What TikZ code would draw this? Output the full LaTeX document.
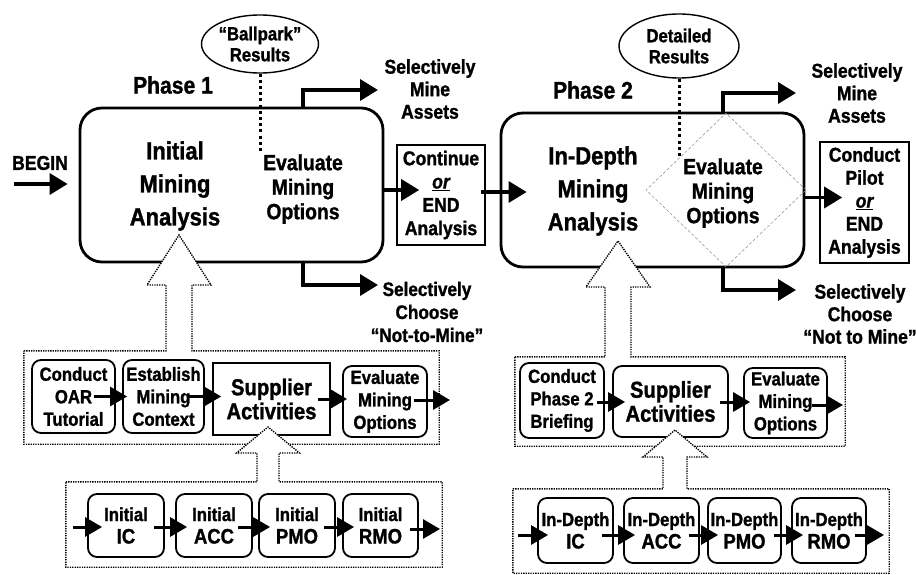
\documentclass[tikz,border=0pt]{standalone}
\usepackage{fontspec}
\setmainfont{Liberation Sans}[FakeStretch=0.88,FakeBold=1.2]
\usetikzlibrary{arrows.meta,calc,shapes.geometric}

% bold text at a given size / baseline skip
\newcommand\fs[2]{\fontsize{#1}{#2}\selectfont\bfseries}

% dotted group frame whose top edge turns into a hollow arrow pointing up
% #1 group node, #2 tip coordinate, #3 head length, #4 half shaft width, #5 half head width
\newcommand\grouparrow[5]{%
  \draw[grp,fill=white] (#1.north west)
    -- ($(#2 |- #1.north)+(-#4,0)$) -- ($(#2)+(-#4,#3)$) -- ($(#2)+(-#5,#3)$)
    -- (#2) -- ($(#2)+(#5,#3)$) -- ($(#2)+(#4,#3)$) -- ($(#2 |- #1.north)+(#4,0)$)
    -- (#1.north east) -- (#1.south east) -- (#1.south west) -- cycle;}

\begin{document}
\begin{tikzpicture}[x=1pt,y=-1pt,
  bigbox/.style={draw, rounded corners=22pt, line width=2.8pt, inner sep=0pt},
  smallbox/.style={draw, rounded corners=9pt, line width=1.8pt, inner sep=0pt, align=center, font=\fs{19}{22.5}},
  sqbox/.style={draw, line width=1.6pt, inner sep=0pt, align=center},
  txt/.style={inner sep=0pt, align=center},
  grp/.style={line width=1.4pt, dash pattern=on 1.3pt off 1.1pt},
  grpnode/.style={inner sep=0pt, draw=none},
  arr/.style={line width=3.5pt, -{Triangle[length=18pt,width=21pt]}},
  sarr/.style={line width=3pt, -{Triangle[length=17pt,width=19pt]}},
  link/.style={line width=3pt, dash pattern=on 3pt off 3.2pt},
  oval/.style={ellipse, draw, line width=1.4pt, inner sep=0pt, align=center, font=\fs{19}{21}},
  sel/.style={txt, font=\fs{20}{22.5}},
  phase/.style={txt, font=\fs{24}{28}},
  bigtxt/.style={txt, font=\fs{25}{33}},
  midtxt/.style={txt, font=\fs{22}{24.5}},
  supp/.style={font=\fs{23}{24}},
]
\fill[white] (0,0) rectangle (916,575);
\useasboundingbox (0,0) rectangle (916,575);

% ---------------- Phase 1 ----------------
\node[bigbox, minimum width=303pt, minimum height=154pt] (main1) at (231.5,185) {};
\node[phase] (ph1) at (173,85) {Phase 1};
\node[bigtxt] (init) at (175,186) {Initial\\Mining\\Analysis};
\node[midtxt] (eval1) at (303,189) {Evaluate\\Mining\\Options};
\node[oval, minimum width=117pt, minimum height=58pt] (e1) at (260,44) {“Ballpark”\\Results};
\coordinate (d1) at (260,153);
\draw[link] (e1.south) -- (d1);

\node[txt, font=\fs{20}{23}] (begin) at (40,163) {BEGIN};
\coordinate (bs) at (14,184);
\draw[arr, shorten >=11pt] (bs) -- (bs -| main1.west);

\coordinate (o1a) at (378,90);
\coordinate (o1b) at (378,285);
\draw[arr] (eval1 |- main1.north) |- (o1a);
\draw[arr] (eval1 |- main1.south) |- (o1b);
\node[sel] (sel1a) at (430,89) {Selectively\\Mine\\Assets};
\node[sel, font=\fs{19.5}{23}] (sel1b) at (427,312) {Selectively\\Choose\\“Not-to-Mine”};

\node[sqbox, minimum width=88pt, minimum height=100pt, font=\fs{20}{23.3}] (c1) at (441,195)
  {Continue\\\underline{\itshape or}\\END\\Analysis};
\coordinate (a1) at ($(c1.west)+(23,-5)$);
\draw[arr] (main1.east |- a1) -- (a1);

% ---------------- Phase 2 ----------------
\node[bigbox, minimum width=303pt, minimum height=154pt] (main2) at (652.5,190) {};
\node[diamond, draw=black!45, line width=0.5pt, dash pattern=on 3pt off 2pt,
      minimum width=160pt, minimum height=154pt, inner sep=0pt] (dm) at (726,190) {};
\node[phase] (ph2) at (593,90) {Phase 2};
\node[bigtxt] (indepth) at (593,191) {In-Depth\\Mining\\Analysis};
\node[midtxt] (eval2) at (723,193) {Evaluate\\Mining\\Options};
\node[oval, minimum width=120pt, minimum height=64pt] (e2) at (679,46) {Detailed\\Results};
\coordinate (d2) at (679,158);
\draw[link] (e2.south) -- (d2);

\coordinate (a2) at ($(main2.west)+(27,2)$);
\draw[arr] ($(c1.east)+(-5,-3)$) -- (a2);

\coordinate (o2a) at (796,93);
\coordinate (o2b) at (796,290);
\draw[arr] (eval2 |- main2.north) |- (o2a);
\draw[arr] (eval2 |- main2.south) |- (o2b);
\node[sel] (sel2a) at (857,93) {Selectively\\Mine\\Assets};
\node[sel] (sel2b) at (860,314) {Selectively\\Choose\\“Not to Mine”};

\node[sqbox, minimum width=89pt, minimum height=121pt, font=\fs{20}{23}] (c2) at (864.5,202.5)
  {Conduct\\Pilot\\\underline{\itshape or}\\END\\Analysis};
\coordinate (a3) at ($(c2.west)+(23,-5)$);
\draw[arr] (main2.east |- a3) -- (a3);

% ---------------- Phase 1 activities ----------------
\node[grpnode, minimum width=415pt, minimum height=93pt] (g1) at (231.5,397.5) {};
\coordinate (t1) at (179,235);
\grouparrow{g1}{t1}{50}{13}{32}
\node[smallbox, minimum width=83pt, minimum height=73pt] (b11) at (73.5,396.5) {Conduct\\OAR\\Tutorial};
\node[smallbox, minimum width=81pt, minimum height=73pt] (b12) at (163.5,396.5) {Establish\\Mining\\Context};
\node[sqbox, supp, minimum width=117pt, minimum height=72pt] (b13) at (271.5,399) {Supplier\\Activities};
\node[smallbox, minimum width=84pt, minimum height=71pt] (b14) at (385,401.5) {Evaluate\\Mining\\Options};
\coordinate (x1) at (450,400);
\draw[sarr] ($(b11.east)+(-22,0)$) -- ($(b11.east -| b12.west)+(5,0)$);
\draw[sarr] ($(b12.east)+(-17,0)$) -- ($(b12.east -| b13.west)+(9,0)$);
\draw[sarr] ($(b13.east)+(-13,0)$) -- ($(b13.east -| b14.west)+(5,0)$);
\draw[sarr] ($(b14.east |- x1)+(-14,0)$) -- (x1);

\node[grpnode, minimum width=376pt, minimum height=85pt] (g2) at (254,524.5) {};
\coordinate (t2) at (268,427);
\grouparrow{g2}{t2}{26}{11}{31.5}
\node[smallbox, minimum width=76pt, minimum height=63pt] (b21) at (126,525.5) {Initial\\{\fs{21}{25}IC}};
\node[smallbox, minimum width=76pt, minimum height=63pt] (b22) at (214,525.5) {Initial\\{\fs{21}{25}ACC}};
\node[smallbox, minimum width=76pt, minimum height=63pt] (b23) at (297,525.5) {Initial\\{\fs{21}{25}PMO}};
\node[smallbox, minimum width=75pt, minimum height=63pt] (b24) at (380.5,525.5) {Initial\\{\fs{21}{25}RMO}};
\coordinate (in2) at (73,527);
\coordinate (x2) at (440,529);
\draw[sarr] (in2) -- ($(in2 -| b21.west)+(15,0)$);
\draw[sarr] ($(b21.east)+(-11,1.5)$) -- ($(b21.east -| b22.west)+(12,1.5)$);
\draw[sarr] ($(b22.east)+(-15,1.5)$) -- ($(b22.east -| b23.west)+(12,1.5)$);
\draw[sarr] ($(b23.east)+(-12,1.5)$) -- ($(b23.east -| b24.west)+(12,1.5)$);
\draw[sarr] ($(b24.east |- x2)+(-9,0)$) -- (x2);

% ---------------- Phase 2 activities ----------------
\node[grpnode, minimum width=330pt, minimum height=89pt] (g3) at (680,401.5) {};
\coordinate (t3) at (618,241);
\grouparrow{g3}{t3}{46}{13}{32}
\node[smallbox, minimum width=84pt, minimum height=75pt] (b31) at (562,400.5) {Conduct\\Phase 2\\Briefing};
\node[smallbox, supp, minimum width=115pt, minimum height=71pt] (b32) at (670.5,401.5) {Supplier\\Activities};
\node[smallbox, minimum width=83pt, minimum height=70pt] (b33) at (785.5,403) {Evaluate\\Mining\\Options};
\coordinate (x3) at (843,405);
\draw[sarr] ($(b31.east)+(-8,1.5)$) -- ($(b31.east -| b32.west)+(13,1.5)$);
\draw[sarr] ($(b32.east)+(-9,0.5)$) -- ($(b32.east -| b33.west)+(7,0.5)$);
\draw[sarr] ($(b33.east |- x3)+(-16,0)$) -- (x3);

\node[grpnode, minimum width=376pt, minimum height=84pt] (g4) at (701,531) {};
\coordinate (t4) at (675,430);
\grouparrow{g4}{t4}{27}{12}{32}
\node[smallbox, minimum width=75pt, minimum height=65pt] (b41) at (575.5,530.5) {In-Depth\\{\fs{21}{24}IC}};
\node[smallbox, minimum width=75pt, minimum height=65pt] (b42) at (661.5,530.5) {In-Depth\\{\fs{21}{24}ACC}};
\node[smallbox, minimum width=73pt, minimum height=65pt] (b43) at (744.5,530.5) {In-Depth\\{\fs{21}{24}PMO}};
\node[smallbox, minimum width=74pt, minimum height=65pt] (b44) at (829,530.5) {In-Depth\\{\fs{21}{24}RMO}};
\coordinate (in4) at (518,535);
\coordinate (x4) at (884,535);
\draw[sarr] (in4) -- ($(in4 -| b41.west)+(11,0)$);
\draw[sarr] ($(b41.east)+(-12,4.5)$) -- ($(b41.east -| b42.west)+(12,4.5)$);
\draw[sarr] ($(b42.east)+(-11,4.5)$) -- ($(b42.east -| b43.west)+(11,4.5)$);
\draw[sarr] ($(b43.east)+(-8,4.5)$) -- ($(b43.east -| b44.west)+(12,4.5)$);
\draw[sarr] ($(b44.east |- x4)+(-12,0)$) -- (x4);
\end{tikzpicture}
\end{document}
